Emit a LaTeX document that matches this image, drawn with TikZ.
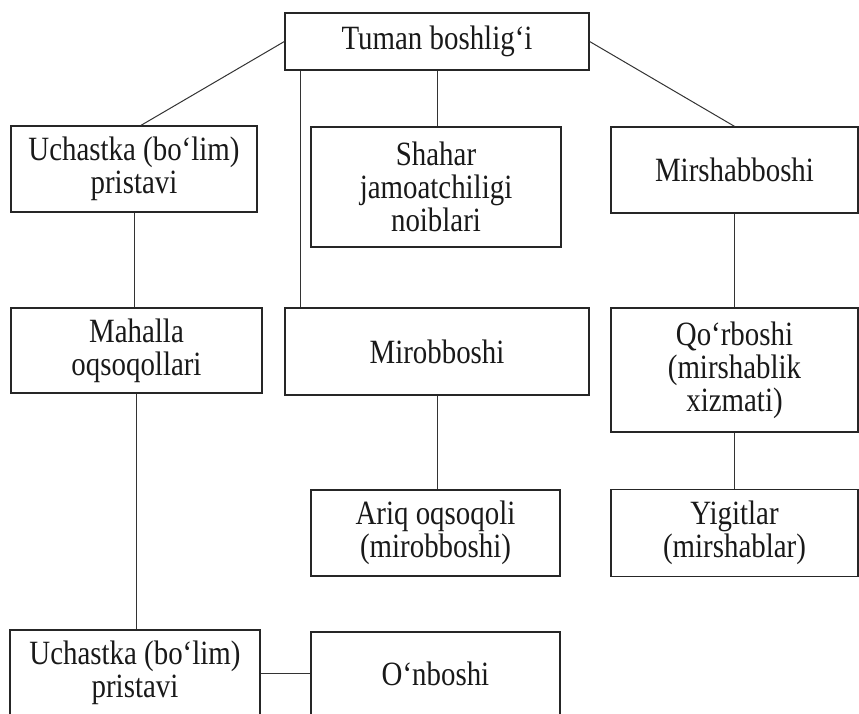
\documentclass[tikz,border=0pt]{standalone}
\usepackage{fontspec}
\setmainfont[FakeStretch=0.85]{Liberation Serif}
\newcommand\mytightlines{\lineskiplimit=-20pt\relax}
\begin{document}
\begin{tikzpicture}[x=0.5pt,y=-0.5pt,
  box/.style={draw=black!85, line width=0.65pt, align=center, inner sep=0pt,
    font=\fontsize{17}{16.5}\selectfont\mytightlines, text=black!90},
  link/.style={draw=black!80, line width=0.5pt}]
\useasboundingbox (0,0) rectangle (859,714);
\clip (0,0) rectangle (859,714);
\node[box, minimum width=152pt, minimum height=28.5pt] (top) at (437,41.5) {Tuman boshlig‘i};
\node[box, minimum width=123pt, minimum height=43pt] (uch1) at (134,169) {Uchastka (bo‘lim)\\pristavi};
\node[box, minimum width=125pt, minimum height=60pt] (shahar) at (436,187) {Shahar\\jamoatchiligi\\noiblari};
\node[box, minimum width=123.5pt, minimum height=43pt] (mirsh) at (734.5,170) {Mirshabboshi};
\node[box, minimum width=125.5pt, minimum height=42.5pt] (mahalla) at (136.5,350.5) {Mahalla\\oqsoqollari};
\node[box, minimum width=152pt, minimum height=43.5pt] (mirob) at (437,351.5) {Mirobboshi};
\node[box, minimum width=123.5pt, minimum height=62pt] (qor) at (734.5,370) {Qo‘rboshi\\(mirshablik\\xizmati)};
\node[box, minimum width=124.5pt, minimum height=43pt] (ariq) at (435.5,533) {Ariq oqsoqoli\\(mirobboshi)};
\node[box, minimum width=123.5pt, minimum height=43.5pt] (yigit) at (734.5,533) {Yigitlar\\(mirshablar)};
\node[box, minimum width=125pt, minimum height=43pt] (uch2) at (135,673) {Uchastka (bo‘lim)\\pristavi};
\node[box, minimum width=124.5pt, minimum height=42pt] (onb) at (435.5,674) {O‘nboshi};
\draw[link] (top.west) -- ([xshift=3.5pt]uch1.north);
\draw[link] (top.east) -- (mirsh.north);
\draw[link] ([xshift=-68.5pt]top.south) -- ([xshift=-68.5pt]mirob.north);
\draw[link] (top.south) -- (top.south |- shahar.north);
\draw[link] (uch1.south) -- (uch1.south |- mahalla.north);
\draw[link] (mirsh.south) -- (qor.north);
\draw[link] (mahalla.south) -- (mahalla.south |- uch2.north);
\draw[link] (mirob.south) -- (mirob.south |- ariq.north);
\draw[link] (qor.south) -- (yigit.north);
\draw[link] (uch2.east) -- (uch2.east -| onb.west);
\end{tikzpicture}
\end{document}
